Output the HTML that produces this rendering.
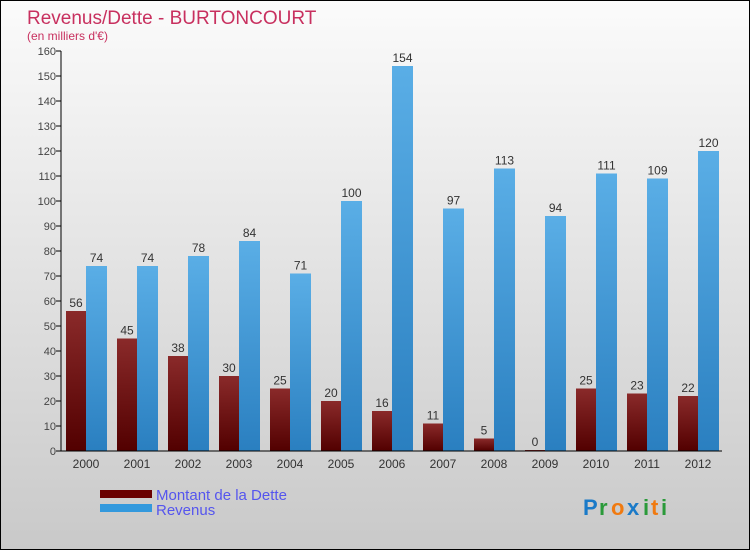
<!DOCTYPE html>
<html><head><meta charset="utf-8"><style>
body{margin:0}
#c{position:relative;width:748px;height:548px;border:1px solid #000;background:linear-gradient(#fbfbfb,#c9c9c9);font-family:"Liberation Sans",sans-serif;overflow:hidden}
text{font-family:"Liberation Sans",sans-serif}
</style></head><body>
<div id="c">
<svg id="s" width="748" height="548">
<defs>
<linearGradient id="gd" x1="0" y1="0" x2="0" y2="1"><stop offset="0" stop-color="#8a2a2a"/><stop offset="1" stop-color="#520000"/></linearGradient>
<linearGradient id="gr" x1="0" y1="0" x2="0" y2="1"><stop offset="0" stop-color="#5aaee6"/><stop offset="1" stop-color="#2a7fc0"/></linearGradient>
</defs>
<text x="26" y="23" font-size="19" fill="#c8305f">Revenus/Dette - BURTONCOURT</text>
<text x="26" y="39" font-size="12" fill="#c8305f">(en milliers d'€)</text>
<g id="g"></g>
<rect x="99" y="489" width="52" height="8" fill="#6a0000"/>
<rect x="99" y="503" width="52" height="8" fill="#3399dd"/>
<text x="155" y="499" font-size="15" fill="#5555ee">Montant de la Dette</text>
<text x="155" y="514" font-size="15" fill="#5555ee">Revenus</text>
<g font-size="22" font-weight="bold">
<text x="582" y="514" fill="#1a7ac8">P</text><text x="598" y="514" fill="#2a9a3a">r</text><text x="610" y="514" fill="#f07a10">o</text><text x="626" y="514" fill="#1a7ac8">x</text><text x="642" y="514" fill="#2a9a3a">i</text><text x="650" y="514" fill="#f07a10">t</text><text x="660" y="514" fill="#2a9a3a">i</text>
</g>
</svg>
</div>
<script>
const years=["2000","2001","2002","2003","2004","2005","2006","2007","2008","2009","2010","2011","2012"];
const debt=[56,45,38,30,25,20,16,11,5,0,25,23,22];
const revenue=[74,74,78,84,71,100,154,97,113,94,111,109,120];
const ticks=[0,10,20,30,40,50,60,70,80,90,100,110,120,130,140,150,160];
const NS="http://www.w3.org/2000/svg";
const g=document.getElementById('g');
const y=v=>450-v*2.5;
const xc=i=>85+i*51;
function mk(t,a,txt){const e=document.createElementNS(NS,t);for(const k in a)e.setAttribute(k,a[k]);if(txt!==undefined)e.textContent=txt;g.appendChild(e);return e;}
ticks.forEach(t=>{
 const l=mk('line',{x1:55,x2:60,y1:y(t),y2:y(t),stroke:'#000'});
 
 
 const tx=mk('text',{x:55,y:y(t)+4,'font-size':11,fill:'#444','text-anchor':'end'},t);
 
 
});
years.forEach((yr,i)=>{
 const c=xc(i);
 const hd=Math.max(debt[i]*2.5,1);
 const b1=mk('rect',{x:c-20,y:450-hd,width:20,height:hd,fill:'url(#gd)'});
 
 
 const b2=mk('rect',{x:c,y:y(revenue[i]),width:21,height:revenue[i]*2.5,fill:'url(#gr)'});
 
 
 const v1=mk('text',{x:c-10,y:450-hd-4,'font-size':12,fill:'#333','text-anchor':'middle'},debt[i]);
 
 
 const v2=mk('text',{x:c+10.5,y:y(revenue[i])-4,'font-size':12,fill:'#333','text-anchor':'middle'},revenue[i]);
 
 
 const xl=mk('text',{x:c,y:467,'font-size':12,fill:'#333','text-anchor':'middle'},yr);
 
 
});
const ya=mk('line',{x1:60,x2:60,y1:50,y2:450,stroke:'#000'});


const xa=mk('line',{x1:60,x2:721,y1:450,y2:450,stroke:'#000'});


</script>
</body></html>
